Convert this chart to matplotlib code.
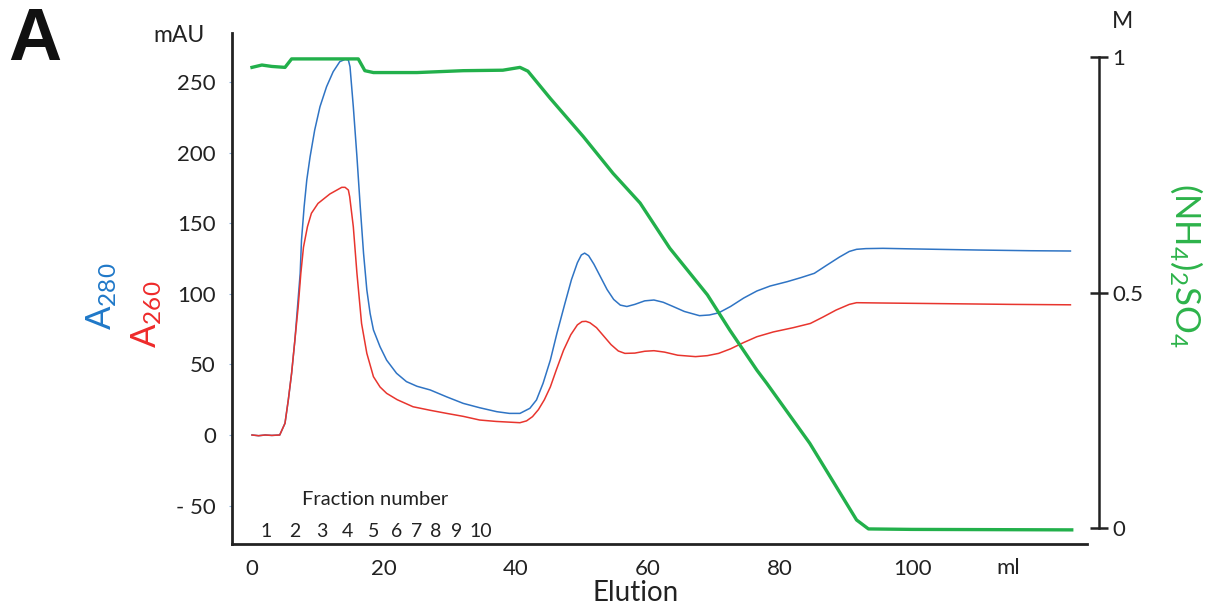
import matplotlib
matplotlib.use("Agg")
import matplotlib.pyplot as plt

# ---------------- data ----------------
a280_ml = [0, 1, 2, 3, 4.2, 5.0, 5.5, 6.0, 6.5, 6.9, 7.3, 7.5, 7.9, 8.3, 8.8, 9.5, 10.3, 11.3,
           12.3, 13.3, 14.1, 14.6, 14.85, 15.35, 15.9, 16.4, 16.9, 17.4, 17.9, 18.4, 19.4, 20.4,
           21.9, 23.4, 25.0, 27.0, 29.5, 32.0, 34.5, 37.1, 39.0, 40.6, 42.1, 43.1, 44.1, 45.2,
           46.2, 47.4, 48.4, 49.3, 49.9, 50.4, 51.0, 51.8, 52.8, 53.8, 54.8, 55.8, 56.8, 58.0, 59.5,
           60.9, 62.3, 63.8, 65.5, 67.8, 69.3, 70.7, 72.5, 74.5, 76.5, 78.5, 81.1, 83.2, 85.2,
           87.0, 89.0, 90.5, 91.6, 93.0, 95.6, 100, 110, 118, 124]
a280_mau = [0, -0.5, 0, -0.3, 0, 8.3, 24.8, 43.7, 67.3, 90.9, 114.5, 138, 161.7, 180.6, 197, 216,
            232.5, 246.7, 257.3, 264.4, 266, 265.6, 260.8, 232.5, 197, 161.7, 128.7, 102.7, 86,
            74.4, 62.5, 53, 43.7, 37.8, 34.5, 31.9, 27, 22.4, 19.3, 16.5, 15.3, 15.3, 18.9, 24.8,
            36.6, 53, 72, 93, 110, 122, 127.5, 128.8, 127, 121, 112, 103, 96, 92, 91, 92.5, 95,
            95.6, 94, 91, 87.5, 84.5, 85, 86.5, 91, 97, 102, 105.5, 108.6, 111.5, 114.5,
            120, 126, 130, 131.5, 132, 132.2, 131.8, 131, 130.5, 130.3]

a260_ml = [0, 1, 2, 3, 4.2, 5.0, 5.5, 6.0, 6.5, 7.0, 7.4, 7.8, 8.4, 9.0, 10.0, 11.8, 13.6, 14.1,
           14.6, 14.8, 15.35, 15.9, 16.6, 17.4, 18.4, 19.4, 20.4, 22.0, 24.4, 27.0, 29.5, 32.0,
           34.5, 37.0, 40.6, 41.6, 42.5, 43.4, 44.3, 45.2, 46.1, 47.2, 48.3, 49.3, 50.0, 50.6, 51.2,
           52.2, 53.3, 54.4, 55.5, 56.5, 58.0, 59.5, 60.9, 62.5, 64.5, 67.2, 69.0, 70.7, 72.5,
           74.5, 76.5, 79.0, 82.0, 84.6, 86.5, 88.5, 90.5, 91.6, 95, 105, 115, 124]
a260_mau = [0, -0.5, 0, -0.3, 0, 8.3, 24.8, 43.7, 67.3, 91, 114.5, 133, 147.5, 157, 164, 170.7,
            175.4, 175.4, 173.5, 168.8, 147.5, 114.5, 79, 57.8, 41.3, 34, 29.5, 25, 20, 17.5,
            15.3, 13.2, 10.6, 9.6, 8.7, 10, 13, 18, 25, 34, 46, 60, 71, 78, 80.3, 80.5, 79.5,
            76, 70, 64, 59.5, 57.8, 58, 59.3, 59.7, 58.7, 56.5, 55.5, 56.2, 57.8, 61,
            65.5, 69.6, 73, 76, 79, 83.5, 88.5, 92.5, 93.7, 93.5, 93, 92.5, 92.2]

salt_ml = [0, 1.5, 3, 5, 6, 16.1, 17.1, 18.4, 25, 32, 38, 40.6, 41.8, 45.2, 50.2, 54.7, 58.8,
           63.3, 69.0, 72.4, 76.5, 78.0, 84.5, 91.6, 93.4, 100, 124.2]
salt_m = [0.978, 0.983, 0.980, 0.978, 0.996, 0.996, 0.971, 0.967, 0.967, 0.971, 0.972, 0.978,
          0.970, 0.912, 0.831, 0.753, 0.690, 0.594, 0.495, 0.420, 0.335, 0.307, 0.180, 0.017,
          -0.002, -0.003, -0.004]

fraction_labels = ["1", "2", "3", "4", "5", "6", "7", "8", "9", "10"]
fraction_pos_ml = [2.1, 6.5, 10.6, 14.5, 18.4, 21.9, 24.9, 27.9, 31.0, 34.7]

x_ticks = [0, 20, 40, 60, 80, 100]
y_ticks = [-50, 0, 50, 100, 150, 200, 250]
y_ticklabels = ["- 50", "0", "50", "100", "150", "200", "250"]
m_ticks = [0, 0.5, 1]
m_ticklabels = ["0", "0.5", "1"]

# ---------------- style ----------------
plt.rcParams['font.family'] = ['Lato', 'DejaVu Sans']
plt.rcParams['mathtext.fontset'] = 'custom'
plt.rcParams['mathtext.rm'] = 'Lato'

BLUE = '#2f74c4'
RED = '#e8352e'
GREEN = '#22b04b'
TXT = '#222222'

W, H = 1211, 612
fig = plt.figure(figsize=(W / 100, H / 100), dpi=100)

def fx(px):
    return px / W

def fy(py):
    return 1 - py / H

ax_left_px, ax_right_px, ax_top_px, ax_bot_px = 232, 1099, 33, 544
ax = fig.add_axes([fx(ax_left_px), fy(ax_bot_px), (ax_right_px - ax_left_px) / W,
                   (ax_bot_px - ax_top_px) / H])

ax.plot(a280_ml, a280_mau, color=BLUE, lw=1.1, zorder=3, solid_joinstyle='round')
ax.plot(a260_ml, a260_mau, color=RED, lw=1.1, zorder=3, solid_joinstyle='round')

ax.set_xlim(-3.03, 128.33)
ax.set_ylim(-77.2, 284.7)

for s in ['top', 'right']:
    ax.spines[s].set_visible(False)
ax.spines['left'].set_linewidth(2.0)
ax.spines['bottom'].set_linewidth(2.0)
ax.spines['left'].set_color(TXT)
ax.spines['bottom'].set_color(TXT)
ax.spines['bottom'].set_bounds(-3.03, 126.5)

ax.set_xticks(x_ticks)
ax.set_xticklabels([str(v) for v in x_ticks])
ax.tick_params(axis='x', length=0, pad=11, labelsize=16, labelcolor=TXT)
ax.set_yticks(y_ticks)
ax.set_yticklabels(y_ticklabels)
ax.tick_params(axis='y', length=2.5, width=0.8, color='#8fb4df', pad=9, labelsize=16,
               labelcolor=TXT)

# twin axis for ammonium sulfate
ax2 = ax.twinx()
ax2.plot(salt_ml, salt_m, color=GREEN, lw=2.4, zorder=4, solid_joinstyle='round')
ax2.set_ylim(-0.034, 1.051)
for s in ['top', 'left', 'bottom']:
    ax2.spines[s].set_visible(False)
ax2.spines['right'].set_bounds(0, 1)
ax2.spines['right'].set_linewidth(1.8)
ax2.spines['right'].set_color(TXT)
ax2.set_yticks(m_ticks)
ax2.set_yticklabels(m_ticklabels)
ax2.tick_params(axis='y', direction='inout', length=13, width=1.8, color=TXT, pad=3,
                labelsize=16, labelcolor=TXT)

# fraction numbers
for lab, pos in zip(fraction_labels, fraction_pos_ml):
    ax.text(pos, -68.5, lab, ha='center', va='center', fontsize=14, color=TXT)
ax.text(18.6, -46, "Fraction number", ha='center', va='center', fontsize=14.5, color=TXT)

# axis texts
fig.text(fx(179), fy(36), "mAU", ha='center', va='center', fontsize=16.5, color=TXT)
fig.text(fx(1122), fy(22), "M", ha='center', va='center', fontsize=16.5, color=TXT)
fig.text(fx(1008), fy(568), "ml", ha='center', va='center', fontsize=16, color=TXT)
fig.text(fx(636), fy(593), "Elution", ha='center', va='center', fontsize=20, color=TXT)
fig.text(fx(102), fy(296), r'$\mathregular{A_{280}}$', rotation=90, ha='center',
         va='center', fontsize=25, color='#1f78c8')
fig.text(fx(147), fy(314), r'$\mathregular{A_{260}}$', rotation=90, ha='center',
         va='center', fontsize=25, color='#ee2a2a')
fig.text(fx(1186), fy(265), r'$\mathregular{(NH_4)_2SO_4}$', rotation=270, ha='center',
         va='center', fontsize=25, color='#2db34a')
fig.text(fx(35), fy(41), "A", ha='center', va='center', fontsize=53, fontweight='bold',
         family=['Liberation Sans', 'DejaVu Sans'], color='#111111')

fig.savefig("out.png", dpi=100, facecolor='white')
